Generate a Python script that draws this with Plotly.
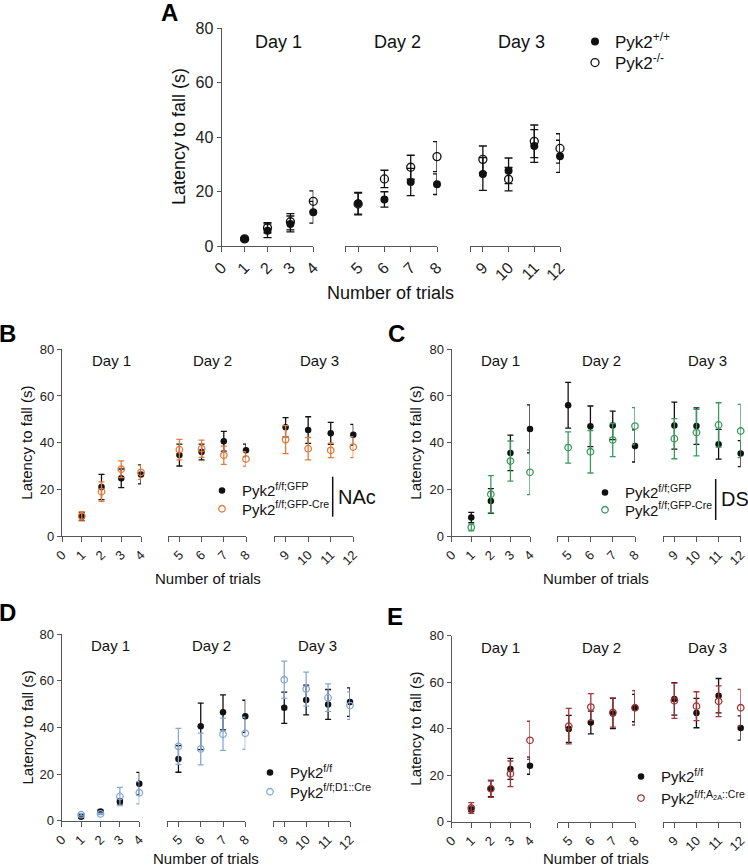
import plotly.graph_objects as go

W, H = 748, 868

trials = list(range(1, 13))
day_labels = ["Day 1", "Day 2", "Day 3"]
day_centres = [2.5, 6.5, 10.5]
seg_ranges = [(0, 4), (4.5, 8), (8.5, 12)]
seg_tickvals = [[0, 1, 2, 3, 4], [4.5, 5, 6, 7, 8], [8.5, 9, 10, 11, 12]]
seg_ticktext = [["0", "1", "2", "3", "4"], ["", "5", "6", "7", "8"], ["", "9", "10", "11", "12"]]
y_ticks = [0, 20, 40, 60, 80]

# A: Pyk2+/+ vs Pyk2-/-
a_wt = [2.6, 5.6, 8.1, 12.4, 15.7, 17.1, 23.5, 22.7, 26.4, 27.6, 36.7, 32.9]
a_wt_err = [0.6, 2.5, 2.9, 4.0, 4.0, 2.8, 5.0, 3.8, 6.0, 4.7, 6.0, 5.9]
a_ko = [2.6, 6.7, 8.9, 16.4, 15.4, 24.6, 28.9, 32.8, 31.8, 24.5, 38.4, 35.8]
a_ko_err = [0.5, 1.9, 3.0, 3.8, 4.0, 3.2, 4.4, 5.5, 4.9, 4.3, 6.0, 5.4]

# B: NAc
b_gfp = [8.3, 21.0, 24.7, 26.4, 34.7, 36.0, 40.6, 36.7, 46.6, 45.4, 44.0, 43.4]
b_gfp_err = [1.7, 5.4, 4.0, 4.1, 4.7, 3.4, 4.2, 2.7, 4.1, 5.7, 4.7, 4.4]
b_cre = [8.6, 19.0, 28.6, 27.3, 37.0, 37.4, 34.6, 33.0, 41.3, 37.4, 36.7, 38.1]
b_cre_err = [1.8, 4.2, 3.6, 3.0, 4.4, 3.7, 3.9, 3.1, 6.0, 4.8, 3.1, 4.5]

# C: DS
c_gfp = [7.9, 15.0, 35.6, 45.9, 56.0, 47.0, 47.4, 38.6, 47.3, 47.1, 39.3, 35.3]
c_gfp_err = [2.2, 5.3, 7.6, 10.3, 9.8, 8.7, 6.1, 6.9, 10.1, 7.8, 6.4, 5.6]
c_cre = [3.7, 17.9, 32.1, 27.3, 37.9, 36.1, 41.1, 47.1, 41.7, 44.3, 47.6, 45.0]
c_cre_err = [1.5, 8.0, 8.6, 9.6, 6.7, 9.1, 7.1, 7.9, 8.6, 10.0, 9.5, 11.4]

# D: D1::Cre
d_ff = [1.7, 4.0, 8.2, 15.9, 26.5, 40.5, 46.5, 44.8, 48.5, 51.8, 49.9, 50.9]
d_ff_err = [0.6, 0.5, 1.0, 4.8, 5.7, 10.0, 7.5, 6.9, 6.7, 6.4, 6.4, 6.1]
d_cre = [2.6, 2.9, 10.4, 12.0, 31.9, 30.8, 37.1, 37.5, 60.5, 56.5, 52.8, 49.4]
d_cre_err = [0.5, 0.3, 3.9, 4.8, 7.7, 6.8, 6.9, 6.9, 8.0, 7.3, 5.9, 5.9]

# E: A2A::Cre
e_ff = [5.3, 14.2, 22.7, 24.1, 39.9, 42.7, 46.5, 48.9, 52.8, 46.7, 54.2, 40.3]
e_ff_err = [1.0, 3.4, 4.5, 3.7, 5.8, 4.9, 6.5, 5.9, 7.0, 6.3, 7.4, 5.2]
e_cre = [5.9, 14.2, 20.6, 35.0, 41.1, 49.3, 47.0, 49.0, 52.0, 49.7, 51.8, 49.0]
e_cre_err = [2.3, 3.7, 5.5, 8.2, 7.6, 5.8, 6.3, 7.4, 7.6, 6.2, 6.6, 7.9]

BLACK = "#111111"
FONT = "Liberation Sans, Arial, sans-serif"
AXIS = "#555555"

# leg = (x of legend box, y of row 1, y of row 2) in pixels
panels = [
    dict(letter="A", letter_xy=(169, 12), top=28, bottom=246,
         segs=[(221.7, 313.3), (345, 437), (470, 560)],
         ytitle_x=179, xtitle_y=293, tick=16, title=18, msize=8, cap=4,
         leg=(575, 42, 63), legfont=17, region=None,
         series=[("Pyk2<sup>+/+</sup>", a_wt, a_wt_err, BLACK, False),
                 ("Pyk2<sup>-/-</sup>", a_ko, a_ko_err, BLACK, True)]),
    dict(letter="B", letter_xy=(8, 334), top=349.3, bottom=536,
         segs=[(62, 141), (168.3, 246), (274.3, 353.3)],
         ytitle_x=27, xtitle_y=578, tick=13, title=15, msize=6.5, cap=3,
         leg=(202, 490.7, 509), legfont=15, region=("NAc", 332.7, 476.7, 516.7),
         series=[("Pyk2<sup>f/f;GFP</sup>", b_gfp, b_gfp_err, BLACK, False),
                 ("Pyk2<sup>f/f;GFP-Cre</sup>", b_cre, b_cre_err, "#E5793A", True)]),
    dict(letter="C", letter_xy=(396, 333), top=349.3, bottom=536,
         segs=[(451.7, 530), (557, 635), (663.3, 740.7)],
         ytitle_x=416, xtitle_y=578, tick=13, title=15, msize=6.5, cap=3,
         leg=(585, 492.7, 510), legfont=15, region=("DS", 715.7, 479, 520),
         series=[("Pyk2<sup>f/f;GFP</sup>", c_gfp, c_gfp_err, BLACK, False),
                 ("Pyk2<sup>f/f;GFP-Cre</sup>", c_cre, c_cre_err, "#3B9B5E", True)]),
    dict(letter="D", letter_xy=(8, 612), top=634.3, bottom=820.7,
         segs=[(61.7, 139.3), (167.3, 245.3), (273.3, 350)],
         ytitle_x=27, xtitle_y=858, tick=13, title=15, msize=6.5, cap=3,
         leg=(250, 772.7, 792), legfont=15, region=None,
         series=[("Pyk2<sup>f/f</sup>", d_ff, d_ff_err, BLACK, False),
                 ("Pyk2<sup>f/f;D1::Cre</sup>", d_cre, d_cre_err, "#86A8D6", True)]),
    dict(letter="E", letter_xy=(395, 616), top=635.7, bottom=821.7,
         segs=[(451.7, 530), (557.7, 635), (663.3, 740.7)],
         ytitle_x=416, xtitle_y=858, tick=13, title=15, msize=6.5, cap=3,
         leg=(621, 776.7, 798.3), legfont=15, region=None,
         series=[("Pyk2<sup>f/f</sup>", e_ff, e_ff_err, BLACK, False),
                 ("Pyk2<sup>f/f;A<sub>2A</sub>::Cre</sup>", e_cre, e_cre_err, "#A33535", True)]),
]


def fx(v):
    return v / W


def fy(v):
    return 1 - v / H


fig = go.Figure()
annotations = []
shapes = []
layout = {}
leg_count = 0

for p_i, p in enumerate(panels):
    ysuf = "" if p_i == 0 else str(p_i + 1)
    yname = "y" + ysuf
    layout["yaxis" + ysuf] = dict(
        domain=[fy(p["bottom"]), fy(p["top"])], range=[0, 80], anchor="x" + ("" if p_i == 0 else str(p_i * 3 + 1)),
        tickvals=y_ticks, ticks="outside", ticklen=4, tickwidth=1.2, tickcolor=AXIS,
        showline=True, linecolor=AXIS, linewidth=1.3, showgrid=False, zeroline=False,
        automargin=False, tickfont=dict(size=p["tick"], color="#222"), fixedrange=True)

    # one legend box per series so each row can be put where it is in the figure
    leg_names = []
    for k in range(len(p["series"])):
        leg_count += 1
        lname = "legend" if leg_count == 1 else "legend%d" % leg_count
        leg_names.append(lname)
        layout[lname] = dict(x=fx(p["leg"][0]), y=fy(p["leg"][1 + k]), xanchor="left", yanchor="middle",
                             bgcolor="rgba(0,0,0,0)", font=dict(size=p["legfont"], color="#111"),
                             tracegroupgap=0, itemwidth=30, borderwidth=0)

    for s_i in range(3):
        n = p_i * 3 + s_i + 1
        xsuf = "" if n == 1 else str(n)
        x0, x1 = p["segs"][s_i]
        layout["xaxis" + xsuf] = dict(
            domain=[fx(x0), fx(x1)], range=list(seg_ranges[s_i]), anchor=yname,
            tickvals=seg_tickvals[s_i], ticktext=seg_ticktext[s_i], tickangle=-45,
            ticks="outside", ticklen=5, tickwidth=1.2, tickcolor=AXIS,
            showline=True, linecolor=AXIS, linewidth=1.3, showgrid=False, zeroline=False,
            automargin=False, tickfont=dict(size=p["tick"], color="#222"), fixedrange=True)
        sl = slice(4 * s_i, 4 * s_i + 4)
        for k, (name, mean, err, col, is_open) in enumerate(p["series"]):
            fig.add_trace(go.Scatter(
                x=trials[sl], y=mean[sl], mode="markers", name=name,
                xaxis="x" + xsuf, yaxis=yname, legend=leg_names[k], showlegend=(s_i == 0),
                cliponaxis=False,
                marker=dict(symbol="circle-open" if is_open else "circle", size=p["msize"],
                            color=col, line=dict(width=1.3 if is_open else 0, color=col)),
                error_y=dict(type="data", array=err[sl], color=col, thickness=1.3, width=p["cap"])))
        annotations.append(dict(
            text=day_labels[s_i], x=day_centres[s_i], y=75, xref="x" + xsuf, yref=yname,
            xanchor="center", yanchor="middle",
            showarrow=False, font=dict(size=p["title"], color="#111")))

    # panel letter
    annotations.append(dict(text="<b>%s</b>" % p["letter"], x=fx(p["letter_xy"][0]), y=fy(p["letter_xy"][1]),
                            xref="paper", yref="paper", xanchor="center", yanchor="middle",
                            showarrow=False, font=dict(size=24, color="#000")))
    # axis titles
    annotations.append(dict(text="Latency to fall (s)", x=fx(p["ytitle_x"]),
                            y=fy((p["top"] + p["bottom"]) / 2), xref="paper", yref="paper",
                            xanchor="center", yanchor="middle",
                            textangle=-90, showarrow=False, font=dict(size=p["title"], color="#111")))
    annotations.append(dict(text="Number of trials", x=fx((p["segs"][0][0] + p["segs"][2][1]) / 2),
                            y=fy(p["xtitle_y"]), xref="paper", yref="paper",
                            xanchor="center", yanchor="middle",
                            showarrow=False, font=dict(size=p["title"], color="#111")))
    if p["region"]:
        label, bx, by0, by1 = p["region"]
        shapes.append(dict(type="line", xref="paper", yref="paper", x0=fx(bx), x1=fx(bx),
                           y0=fy(by0), y1=fy(by1), line=dict(color="#111", width=1.5)))
        annotations.append(dict(text=label, x=fx(bx + 3), y=fy((by0 + by1) / 2), xref="paper", yref="paper",
                                xanchor="left", yanchor="middle", showarrow=False,
                                font=dict(size=20, color="#111")))

fig.update_layout(**layout)
fig.update_layout(
    template="none",
    width=W, height=H, margin=dict(l=0, r=0, t=0, b=0, autoexpand=False),
    paper_bgcolor="white", plot_bgcolor="white",
    font=dict(family=FONT, color="#111"),
    annotations=annotations, shapes=shapes)

fig.write_html("out.html", config={"displayModeBar": False},
               post_script="document.body.style.margin='0px';")
